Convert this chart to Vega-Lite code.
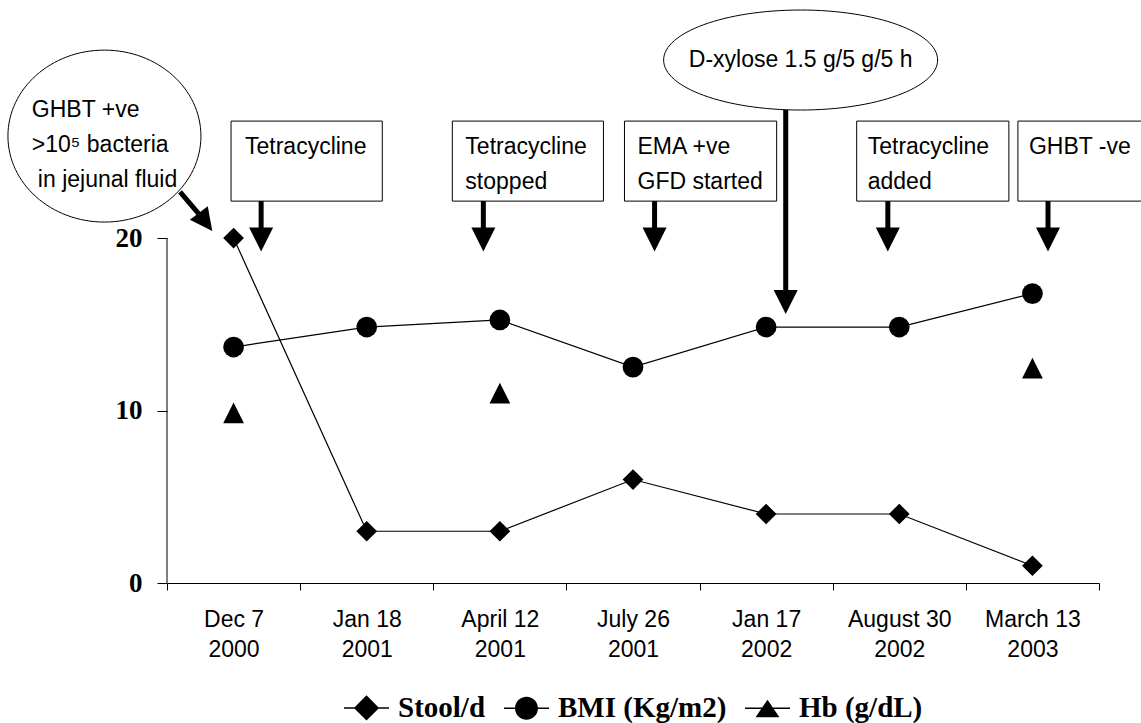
{
  "$schema": "https://vega.github.io/schema/vega-lite/v6.json",
  "width": 932,
  "height": 583,
  "autosize": {"type": "none"},
  "padding": {"left": 167, "top": 0, "right": 42, "bottom": 140},
  "background": "white",
  "config": {"view": {"stroke": null}, "font": "Liberation Sans"},
  "resolve": {"scale": {"shape": "independent"}},
  "datasets": {
    "series": [
      {"x": 0, "series": "Stool/d", "y": 20},
      {"x": 1, "series": "Stool/d", "y": 3},
      {"x": 2, "series": "Stool/d", "y": 3},
      {"x": 3, "series": "Stool/d", "y": 6},
      {"x": 4, "series": "Stool/d", "y": 4},
      {"x": 5, "series": "Stool/d", "y": 4},
      {"x": 6, "series": "Stool/d", "y": 1},
      {"x": 0, "series": "BMI (Kg/m2)", "y": 13.68},
      {"x": 1, "series": "BMI (Kg/m2)", "y": 14.84},
      {"x": 2, "series": "BMI (Kg/m2)", "y": 15.25},
      {"x": 3, "series": "BMI (Kg/m2)", "y": 12.52},
      {"x": 4, "series": "BMI (Kg/m2)", "y": 14.84},
      {"x": 5, "series": "BMI (Kg/m2)", "y": 14.84},
      {"x": 6, "series": "BMI (Kg/m2)", "y": 16.78},
      {"x": 0, "series": "Hb (g/dL)", "y": 9.86},
      {"x": 2, "series": "Hb (g/dL)", "y": 11.01},
      {"x": 6, "series": "Hb (g/dL)", "y": 12.46}
    ],
    "boxes": [
      {"x": -0.019, "x2": 1.117, "y": 22.14, "y2": 26.78},
      {"x": 1.643, "x2": 2.778, "y": 22.14, "y2": 26.78},
      {"x": 2.936, "x2": 4.079, "y": 22.14, "y2": 26.78},
      {"x": 4.68, "x2": 5.823, "y": 22.14, "y2": 26.78},
      {"x": 5.891, "x2": 6.9, "y": 22.14, "y2": 26.78}
    ],
    "labels": [
      {"x": 0.086, "y": 25.28, "text": "Tetracycline"},
      {"x": 1.741, "y": 25.28, "text": "Tetracycline"},
      {"x": 1.741, "y": 23.25, "text": "stopped"},
      {"x": 3.034, "y": 25.28, "text": "EMA +ve"},
      {"x": 3.034, "y": 23.25, "text": "GFD started"},
      {"x": 4.763, "y": 25.28, "text": "Tetracycline"},
      {"x": 4.763, "y": 23.25, "text": "added"},
      {"x": 5.974, "y": 25.28, "text": "GHBT -ve"},
      {"x": -1.515, "y": 27.45, "text": "GHBT +ve"},
      {"x": -1.515, "y": 25.42, "text": ">10⁵ bacteria"},
      {"x": -1.47, "y": 23.39, "text": "in jejunal fluid"}
    ],
    "shafts": [
      {"x": 0.207, "y": 22.14, "x2": 0.207, "y2": 19.91},
      {"x": 1.876, "y": 22.14, "x2": 1.876, "y2": 19.91},
      {"x": 3.162, "y": 22.14, "x2": 3.162, "y2": 19.91},
      {"x": 4.914, "y": 22.14, "x2": 4.914, "y2": 19.91},
      {"x": 6.117, "y": 22.14, "x2": 6.117, "y2": 19.91},
      {"x": 4.147, "y": 27.42, "x2": 4.147, "y2": 16.29},
      {"x": -0.402, "y": 22.67, "x2": -0.2105, "y2": 20.93}
    ],
    "heads": [
      {"x": 0.207, "y": 19.91},
      {"x": 1.876, "y": 19.91},
      {"x": 3.162, "y": 19.91},
      {"x": 4.914, "y": 19.91},
      {"x": 6.117, "y": 19.91},
      {"x": 4.147, "y": 16.29}
    ],
    "diaghead": [{"x": -0.2105, "y": 20.93}],
    "ellipse1": [{"x": -0.97, "y": 25.91}],
    "ellipse2": [{"x": 4.259, "y": 30.32, "text": "D-xylose 1.5 g/5 g/5 h"}],
    "yaxisline": [{"x": -0.5, "y": 0, "y2": 20}]
  },
  "layer": [
    {
      "data": {"name": "yaxisline"},
      "mark": {"type": "rule", "color": "black", "strokeWidth": 1},
      "encoding": {
        "x": {"field": "x", "type": "quantitative", "scale": {"domain": [-0.5, 6.5], "nice": false, "zero": false},
          "axis": {
            "values": [-0.5, 0, 0.5, 1, 1.5, 2, 2.5, 3, 3.5, 4, 4.5, 5, 5.5, 6, 6.5],
            "title": null, "grid": false, "domainColor": "black", "domainWidth": 1,
            "tickColor": "black", "tickSize": 7, "tickWidth": 1,
            "tickOpacity": {"condition": {"test": "datum.value % 1 !== 0", "value": 1}, "value": 0},
            "labelExpr": "datum.value % 1 === 0 ? [['Dec 7','2000'],['Jan 18','2001'],['April 12','2001'],['July 26','2001'],['Jan 17','2002'],['August 30','2002'],['March 13','2003']][datum.value] : ''",
            "labelFont": "Liberation Sans", "labelFontSize": 23, "labelColor": "black",
            "labelLineHeight": 30, "labelPadding": 18, "labelBaseline": "top",
            "labelOverlap": false, "labelFlush": false
          }},
        "y": {"field": "y", "type": "quantitative", "scale": {"domain": [0, 33.8], "nice": false, "zero": false},
          "axis": {
            "values": [0, 10, 20], "title": null, "grid": false, "domain": false,
            "tickColor": "black", "tickSize": 10, "tickWidth": 1,
            "labelFont": "Liberation Serif", "labelFontWeight": "bold", "labelFontSize": 27,
            "labelColor": "black", "labelPadding": 15
          }},
        "y2": {"field": "y2"}
      }
    },
    {
      "data": {"name": "boxes"},
      "mark": {"type": "rect", "fill": "white", "stroke": "black", "strokeWidth": 1},
      "encoding": {
        "x": {"field": "x", "type": "quantitative"},
        "x2": {"field": "x2"},
        "y": {"field": "y", "type": "quantitative"},
        "y2": {"field": "y2"}
      }
    },
    {
      "data": {"name": "ellipse1"},
      "mark": {"type": "point", "shape": "M1,0C1,0.4921 0.5523,0.891 0,0.891C-0.5523,0.891 -1,0.4921 -1,0C-1,-0.4921 -0.5523,-0.891 0,-0.891C0.5523,-0.891 1,-0.4921 1,0Z", "size": 37249, "filled": true, "fill": "white", "stroke": "black", "strokeWidth": 1, "opacity": 1},
      "encoding": {
        "x": {"field": "x", "type": "quantitative"},
        "y": {"field": "y", "type": "quantitative"}
      }
    },
    {
      "data": {"name": "shafts"},
      "mark": {"type": "rule", "color": "black", "strokeWidth": 5},
      "encoding": {
        "x": {"field": "x", "type": "quantitative"},
        "y": {"field": "y", "type": "quantitative"},
        "x2": {"field": "x2"},
        "y2": {"field": "y2"}
      }
    },
    {
      "data": {"name": "ellipse2"},
      "mark": {"type": "point", "shape": "M1,0C1,0.2016 0.5523,0.365 0,0.365C-0.5523,0.365 -1,0.2016 -1,0C-1,-0.2016 -0.5523,-0.365 0,-0.365C0.5523,-0.365 1,-0.2016 1,0Z", "size": 75076, "filled": true, "fill": "white", "stroke": "black", "strokeWidth": 1, "opacity": 1},
      "encoding": {
        "x": {"field": "x", "type": "quantitative"},
        "y": {"field": "y", "type": "quantitative"}
      }
    },
    {
      "data": {"name": "ellipse2"},
      "mark": {"type": "text", "align": "center", "baseline": "middle", "font": "Liberation Sans", "fontSize": 23, "color": "black"},
      "encoding": {
        "x": {"field": "x", "type": "quantitative"},
        "y": {"field": "y", "type": "quantitative"},
        "text": {"field": "text"}
      }
    },
    {
      "data": {"name": "labels"},
      "mark": {"type": "text", "align": "left", "baseline": "middle", "font": "Liberation Sans", "fontSize": 23, "color": "black"},
      "encoding": {
        "x": {"field": "x", "type": "quantitative"},
        "y": {"field": "y", "type": "quantitative"},
        "text": {"field": "text"}
      }
    },
    {
      "data": {"name": "heads"},
      "mark": {"type": "point", "shape": "M-1,-1L1,-1L0,1Z", "size": 576, "filled": true, "color": "black", "opacity": 1},
      "encoding": {
        "x": {"field": "x", "type": "quantitative"},
        "y": {"field": "y", "type": "quantitative"}
      }
    },
    {
      "data": {"name": "diaghead"},
      "mark": {"type": "point", "shape": "M-1,-1L1,-1L0,1Z", "size": 500, "angle": 323, "filled": true, "color": "black", "opacity": 1},
      "encoding": {
        "x": {"field": "x", "type": "quantitative"},
        "y": {"field": "y", "type": "quantitative"}
      }
    },
    {
      "data": {"name": "series"},
      "transform": [{"filter": "datum.series !== 'Hb (g/dL)'"}],
      "mark": {"type": "line", "color": "black", "strokeWidth": 1.2},
      "encoding": {
        "x": {"field": "x", "type": "quantitative"},
        "y": {"field": "y", "type": "quantitative"},
        "detail": {"field": "series", "type": "nominal"}
      }
    },
    {
      "data": {"name": "series"},
      "mark": {"type": "point", "filled": true, "color": "black", "opacity": 1, "size": 430},
      "encoding": {
        "x": {"field": "x", "type": "quantitative"},
        "y": {"field": "y", "type": "quantitative"},
        "shape": {
          "field": "series", "type": "nominal",
          "scale": {"domain": ["Stool/d", "BMI (Kg/m2)", "Hb (g/dL)"], "range": ["diamond", "circle", "M0,-1L1,1L-1,1Z"]},
          "legend": null
        }
      }
    },
    {
      "data": {"name": "series"},
      "transform": [{"filter": "false"}],
      "mark": {"type": "point", "filled": true, "fill": "black", "opacity": 1},
      "encoding": {
        "x": {"field": "x", "type": "quantitative"},
        "y": {"field": "y", "type": "quantitative"},
        "shape": {
          "field": "series", "type": "nominal",
          "scale": {"domain": ["Stool/d", "BMI (Kg/m2)", "Hb (g/dL)"], "range": [
            "M-1,-0.03H1V0.03H-1ZM-0.56,0L0,-0.56L0.56,0L0,0.56Z",
            "M-1,-0.03H1V0.03H-1ZM0.51,0C0.51,0.2817 0.2817,0.51 0,0.51C-0.2817,0.51 -0.51,0.2817 -0.51,0C-0.51,-0.2817 -0.2817,-0.51 0,-0.51C0.2817,-0.51 0.51,-0.2817 0.51,0Z",
            "M-1,-0.03H1V0.03H-1ZM0,-0.38L0.53,0.4L-0.53,0.4Z"
          ]},
          "legend": {
            "orient": "none", "legendX": 176, "legendY": 684, "direction": "horizontal", "title": null,
            "labelFont": "Liberation Serif", "labelFontWeight": "bold", "labelFontSize": 29, "labelColor": "black",
            "labelLimit": 400,
            "symbolSize": 2025, "labelOffset": 8, "columnPadding": 15,
            "symbolFillColor": "black", "symbolOpacity": 1
          }
        }
      }
    }
  ]
}
